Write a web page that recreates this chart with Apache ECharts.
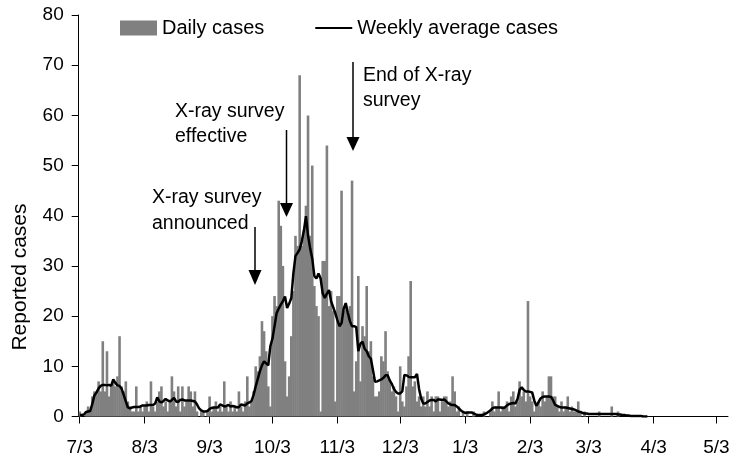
<!DOCTYPE html>
<html><head><meta charset="utf-8">
<script src="https://cdn.jsdelivr.net/npm/echarts@6/dist/echarts.min.js"></script>
<style>html,body{margin:0;padding:0;background:#fff}#c{width:750px;height:472px}</style>
</head><body><div id="c"></div>
<script>
// calendar for category axis (one category per day starting 7/3)
const months = [7, 8, 9, 10, 11, 12, 1, 2, 3, 4, 5];
const monthDays = [31, 31, 30, 31, 30, 31, 31, 28, 31, 30, 31];
const startDay = 3;
const dayCount = 310;
const tickLabels = ['7/3','8/3','9/3','10/3','11/3','12/3','1/3','2/3','3/3','4/3','5/3'];

const dailyCases = [
  1,0,0,1,2,1,4,5,5,7,
  5,15,5,13,4,6,7,6,8,16,
  6,5,7,3,2,1,1,6,1,2,
  1,2,3,1,7,2,1,3,5,6,
  2,3,1,3,8,5,2,6,1,6,
  2,3,6,5,2,5,1,0,1,1,
  0,1,4,1,2,3,1,2,1,7,
  2,1,3,1,2,1,5,2,1,3,
  8,2,3,5,10,9,12,19,17,13,
  6,2,20,24,22,43,38,30,11,4,
  8,16,25,36,34,68,34,37,42,60,
  36,50,26,22,20,1,31,31,54,22,
  25,21,3,24,24,45,21,22,20,22,
  47,5,11,28,7,18,16,26,13,15,
  8,4,4,5,12,11,17,9,7,5,
  6,4,1,10,3,2,6,12,27,6,
  7,3,4,2,4,2,5,2,4,1,
  4,4,1,3,4,4,2,3,8,5,
  1,2,0,1,0,1,0,0,1,0,
  0,0,0,1,0,0,1,3,1,2,
  5,1,2,2,3,1,4,5,2,3,
  7,4,5,3,23,4,3,1,2,3,
  2,5,3,4,8,8,4,4,2,1,
  3,1,2,4,1,2,1,1,3,1,
  0,1,0,0,0,0,0,0,1,0,
  0,0,0,0,2,0,0,1,0,0,
  0,0,0,0,0,0,0,0,0,0,
  0,0,0,0,0,0,0,0,0,0,
  0,0,0,0,0,0,0,0,0,0,
  0,0,0,0,0,0,0,0,0,0,
  0,0,0,0,0,0,0,0,0,0
];

const weeklyAverage = [
  0.3,0.3,0.4,0.9,1.0,1.1,2.5,4.2,4.8,5.6,
  6.1,6.3,6.3,6.2,6.3,6.1,7.4,6.7,6.2,6.1,
  5.5,4.3,3.0,1.8,1.6,1.8,1.9,1.9,1.9,2.0,
  2.2,2.2,2.2,2.3,2.3,2.3,2.6,3.8,3.0,2.8,
  3.1,3.5,3.2,3.0,3.3,3.7,3.0,2.9,3.3,3.4,
  3.2,3.2,3.2,3.2,3.1,3.0,2.4,1.6,1.2,1.0,
  1.0,1.1,1.5,1.7,1.8,1.8,1.8,2.4,2.2,2.0,
  2.1,2.3,2.0,2.1,2.0,1.8,1.9,2.4,2.3,2.2,
  2.6,2.8,3.1,4.3,6.0,7.5,9.0,10.2,11.0,10.6,
  10.2,14.0,15.5,18.0,20.6,21.5,22.3,23.0,23.9,21.6,
  22.5,23.6,28.5,32.0,32.6,33.3,34.9,37.0,39.9,36.0,
  33.5,31.5,28.0,27.5,28.5,27.5,24.5,23.6,24.5,25.2,
  23.0,21.8,20.6,19.2,18.0,18.6,21.5,22.6,20.6,19.0,
  18.0,18.0,17.8,13.0,14.5,14.9,13.5,13.0,12.0,11.5,
  9.2,6.9,7.0,7.2,7.4,7.7,8.2,8.2,7.2,6.5,
  5.5,4.9,4.6,4.6,5.0,8.3,8.2,7.9,7.8,7.8,
  7.8,8.5,5.5,3.6,2.6,2.6,2.9,3.2,3.3,3.3,
  3.0,3.4,3.4,3.3,3.4,3.0,2.6,2.4,2.3,2.3,
  2.0,1.6,1.2,0.9,0.7,0.8,0.8,0.8,0.6,0.4,
  0.3,0.3,0.3,0.4,0.6,0.9,1.2,1.6,1.8,1.8,
  1.8,1.8,1.7,1.8,2.2,2.5,2.6,2.7,2.6,3.5,
  5.3,5.8,5.3,5.0,5.0,4.9,4.8,3.2,2.1,2.8,
  3.6,3.9,4.0,4.0,4.0,3.9,3.2,2.3,2.1,1.9,
  1.8,1.8,1.8,1.7,1.6,1.5,1.4,1.2,1.0,0.9,
  0.7,0.6,0.6,0.5,0.5,0.5,0.5,0.5,0.5,0.5,
  0.5,0.5,0.5,0.5,0.5,0.5,0.5,0.4,0.4,0.3,
  0.3,0.2,0.2,0.1,0.1,0.1,0.1,0.1,0.1,0.0,
  0.0,0.0
];

const categories = [];
{
  let m = 0, d = startDay;
  for (let k = 0; k < dayCount; k++) {
    categories.push(months[m] + '/' + d);
    d++;
    if (d > monthDays[m]) { d = 1; m++; }
  }
}
const isTick = (idx, val) => tickLabels.indexOf(val) >= 0;

const FONT = "'Liberation Sans', Arial, sans-serif";
const FS = 19;
const FS_TEXT = 19.5;
const FS_LEGEND = 20;
const GRAY = '#808080';

const chart = echarts.init(document.getElementById('c'), null, {renderer: 'canvas'});

function arrow(x, yTop, yHeadTop, yTip) {
  return [
    {type: 'line', shape: {x1: x, y1: yTop, x2: x, y2: yHeadTop + 1}, style: {stroke: '#000', lineWidth: 1.5}},
    {type: 'polygon', shape: {points: [[x - 6.5, yHeadTop], [x + 6.5, yHeadTop], [x, yTip]]}, style: {fill: '#000'}}
  ];
}
function label(x, y, text) {
  return {type: 'text', x: x, y: y, style: {text: text, font: FS_TEXT + 'px ' + FONT, fill: '#000', textAlign: 'left', textVerticalAlign: 'middle'}};
}

chart.setOption({
  animation: false,
  backgroundColor: '#fff',
  grid: {left: 78.7, right: 22, top: 15, bottom: 55.5},
  legend: {
    left: 120, top: 18, padding: 0, itemWidth: 37, itemHeight: 15, itemGap: 50,
    textStyle: {fontFamily: FONT, fontSize: FS_LEGEND, color: '#000'},
    data: [
      {name: 'Daily cases', icon: 'rect'},
      {name: 'Weekly average cases', itemStyle: {opacity: 0, color: 'rgba(0,0,0,0)', borderWidth: 0}}
    ]
  },
  xAxis: {
    type: 'category',
    data: categories,
    boundaryGap: true,
    axisLine: {lineStyle: {color: '#000', width: 1}},
    axisTick: {show: true, interval: isTick, alignWithLabel: true, length: 7, lineStyle: {color: '#000'}},
    axisLabel: {interval: isTick, margin: 22, fontFamily: FONT, fontSize: FS, color: '#000'},
    splitLine: {show: false}
  },
  yAxis: {
    type: 'value', min: 0, max: 80, interval: 10,
    axisLine: {show: true, lineStyle: {color: '#000', width: 1}},
    axisTick: {show: true, length: 7, lineStyle: {color: '#000'}},
    axisLabel: {margin: 15, fontFamily: FONT, fontSize: FS, color: '#000'},
    splitLine: {show: false}
  },
  series: [
    {
      name: 'Daily cases', type: 'bar', data: dailyCases,
      barWidth: 2.6,
      itemStyle: {color: GRAY}
    },
    {
      name: 'Weekly average cases', type: 'line', data: weeklyAverage,
      symbol: 'none', smooth: false, z: 5,
      lineStyle: {color: '#000', width: 2.5},
      itemStyle: {color: '#000'}
    }
  ],
  graphic: [
    {type: 'text', x: 20, y: 277, rotation: Math.PI / 2,
     style: {text: 'Reported cases', font: '21px ' + FONT, fill: '#000', textAlign: 'center', textVerticalAlign: 'middle'}},
    label(152, 198, 'X-ray survey'),
    label(152, 224, 'announced'),
    label(175, 112, 'X-ray survey'),
    label(175, 137, 'effective'),
    label(363, 76, 'End of X-ray'),
    label(363, 101, 'survey'),
    ...arrow(255, 227, 270, 285),
    ...arrow(286.5, 130, 203, 217),
    ...arrow(353, 62, 137, 151)
  ]
});
</script>
</body></html>
